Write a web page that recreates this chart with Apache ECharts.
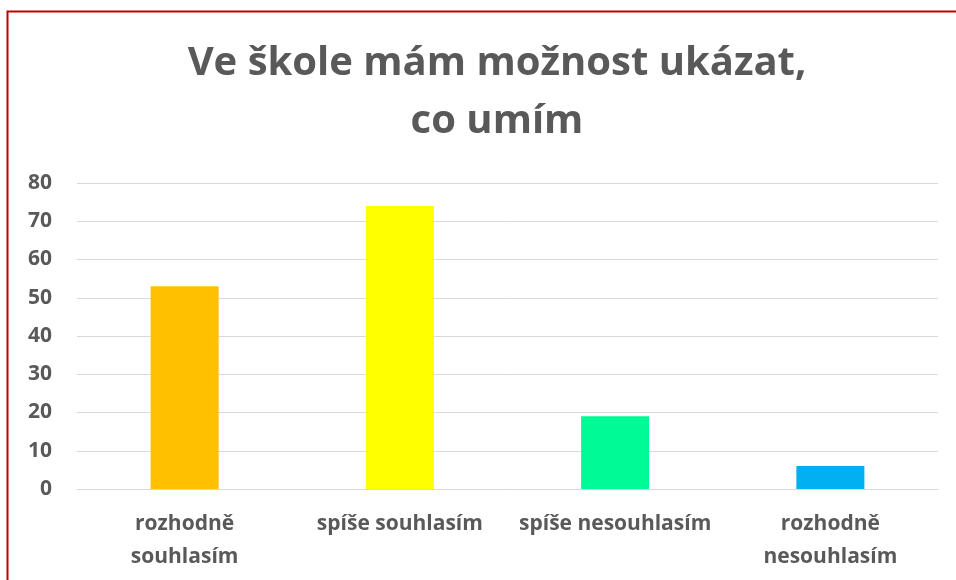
<!DOCTYPE html>
<html>
<head>
<meta charset="utf-8">
<script src="https://cdn.jsdelivr.net/npm/echarts@6/dist/echarts.min.js"></script>
<style>
  html, body { margin: 0; padding: 0; background: #fff; }
  #chart { width: 956px; height: 580px; }
</style>
</head>
<body>
<div id="chart"></div>
<script>
const titleLines = ['Ve škole mám možnost ukázat,', 'co umím'];
const categories = ['rozhodně\nsouhlasím', 'spíše souhlasím', 'spíše nesouhlasím', 'rozhodně\nnesouhlasím'];
const values = [53, 74, 19, 6];
const barColors = ['#FFC000', '#FFFF00', '#00FA96', '#00B0F0'];
const yTicks = { min: 0, max: 80, interval: 10 };

const textGray = '#595959';
const fontFamily = '"Open Sans", Lato, sans-serif';

const chart = echarts.init(document.getElementById('chart'), null, { renderer: 'canvas' });
chart.setOption({
  animation: false,
  backgroundColor: '#ffffff',
  title: {
    text: titleLines.join('\n'),
    left: 492,
    top: 30,
    textAlign: 'center',
    textStyle: {
      color: textGray,
      fontFamily: fontFamily,
      fontWeight: 'bold',
      fontSize: 40,
      lineHeight: 58
    }
  },
  graphic: [{
    type: 'rect',
    silent: true,
    shape: { x: 7.5, y: 11.5, width: 1200, height: 1200 },
    style: { fill: 'none', stroke: '#C00000', lineWidth: 2 }
  }],
  grid: { left: 77, right: 18, top: 183, bottom: 91, containLabel: false },
  xAxis: {
    type: 'category',
    data: categories,
    axisLine: { show: true, lineStyle: { color: '#D9D9D9', width: 1 } },
    axisTick: { show: false },
    axisLabel: {
      color: textGray,
      fontFamily: fontFamily,
      fontWeight: 'bold',
      fontSize: 21,
      lineHeight: 33,
      margin: 19,
      interval: 0
    }
  },
  yAxis: {
    type: 'value',
    min: yTicks.min,
    max: yTicks.max,
    interval: yTicks.interval,
    axisLine: { show: false },
    axisTick: { show: false },
    splitLine: { lineStyle: { color: '#D9D9D9', width: 1 } },
    axisLabel: {
      color: textGray,
      fontFamily: fontFamily,
      fontWeight: 'bold',
      fontSize: 21,
      margin: 25
    }
  },
  series: [{
    type: 'bar',
    data: values.map((v, i) => ({ value: v, itemStyle: { color: barColors[i] } })),
    barWidth: '31.6%'
  }]
});
</script>
</body>
</html>
